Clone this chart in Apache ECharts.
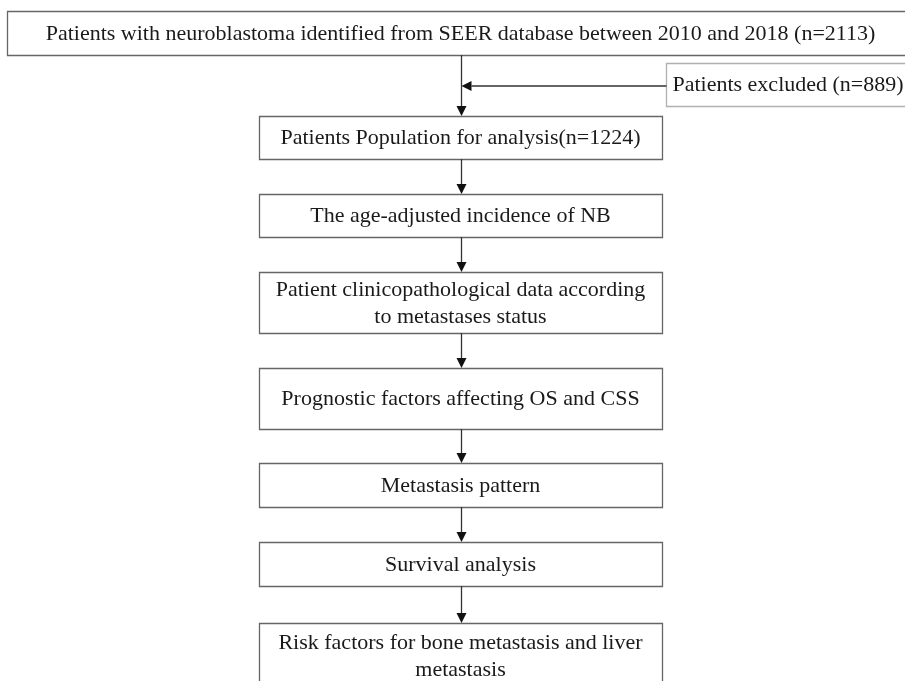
<!DOCTYPE html>
<html>
<head>
<meta charset="utf-8">
<script src="https://cdn.jsdelivr.net/npm/echarts@6/dist/echarts.min.js"></script>
<style>html,body{margin:0;padding:0;background:#fff}#c{width:905px;height:681px}</style>
</head>
<body>
<div id="c"></div>
<script>
// Flowchart content
const sourceLabel = 'Patients with neuroblastoma identified from SEER database between 2010 and 2018 (n=2113)';
const excludedLabel = 'Patients excluded (n=889)';
const stepLabels = [
  'Patients Population for analysis(n=1224)',
  'The age-adjusted incidence of NB',
  'Patient clinicopathological data according\nto metastases status',
  'Prognostic factors affecting OS and CSS',
  'Metastasis pattern',
  'Survival analysis',
  'Risk factors for bone metastasis and liver\nmetastasis'
];
// Box extents in diagram units (y grows downward)
const sourceBox = [7, 11, 914, 55];
const excludedBox = [666, 63, 910, 106];
const stepLeft = 259, stepRight = 662;
const stepTop = [116, 194, 272, 368, 463, 542, 623];
const stepBottom = [159, 237, 333, 429, 507, 586, 720];
const flowX = 461;
const excludedArrowY = 86;

const FONT = '"Liberation Serif", "Times New Roman", serif';
const TXT = '#1a1a1a';

const boxes = [];
boxes.push({x0: sourceBox[0], y0: sourceBox[1], x1: sourceBox[2], y1: sourceBox[3], text: sourceLabel, stroke: '#666'});
boxes.push({x0: excludedBox[0], y0: excludedBox[1], x1: excludedBox[2], y1: excludedBox[3], text: excludedLabel, stroke: '#b0b0b0'});
stepLabels.forEach((t, i) => {
  const y1 = stepBottom[i];
  boxes.push({x0: stepLeft, y0: stepTop[i], x1: stepRight, y1: y1, text: t, stroke: '#666',
    textY: i === stepLabels.length - 1 ? stepTop[i] + 33 : null});
});

const arrows = [];
arrows.push({x0: flowX, y0: sourceBox[3], x1: flowX, y1: stepTop[0]});
arrows.push({x0: excludedBox[0], y0: excludedArrowY, x1: flowX, y1: excludedArrowY});
for (let i = 0; i < stepLabels.length - 1; i++) {
  arrows.push({x0: flowX, y0: stepBottom[i], x1: flowX, y1: stepTop[i + 1]});
}

const chart = echarts.init(document.getElementById('c'), null, {renderer: 'canvas'});
chart.setOption({
  backgroundColor: '#fff',
  animation: false,
  grid: {left: 0, right: 0, top: 0, bottom: 0},
  xAxis: {type: 'value', min: 0, max: 905, show: false},
  yAxis: {type: 'value', min: 0, max: 681, inverse: true, show: false},
  series: [
    {
      type: 'custom',
      coordinateSystem: 'cartesian2d',
      data: boxes.map(b => [b.x0, b.y0, b.x1, b.y1]),
      clip: false,
      renderItem: function (params, api) {
        const b = boxes[params.dataIndex];
        const p0 = api.coord([b.x0, b.y0]);
        const p1 = api.coord([b.x1, b.y1]);
        const cx = (p0[0] + p1[0]) / 2;
        let cy = (p0[1] + p1[1]) / 2;
        if (b.textY != null) cy = api.coord([0, b.textY])[1];
        return {
          type: 'group',
          children: [
            {type: 'rect', shape: {x: p0[0] + 0.5, y: p0[1] + 0.5, width: p1[0] - p0[0], height: p1[1] - p0[1]},
              style: {fill: '#fff', stroke: b.stroke, lineWidth: 1.3}},
            {type: 'text', x: cx, y: cy + 1,
              style: {text: b.text, font: '22px ' + FONT, fill: TXT, align: 'center', verticalAlign: 'middle', lineHeight: 27}}
          ]
        };
      }
    },
    {
      type: 'custom',
      coordinateSystem: 'cartesian2d',
      data: arrows.map(a => [a.x0, a.y0, a.x1, a.y1]),
      clip: false,
      renderItem: function (params, api) {
        const a = arrows[params.dataIndex];
        const p0 = api.coord([a.x0, a.y0]);
        const p1 = api.coord([a.x1, a.y1]);
        const dx = p1[0] - p0[0], dy = p1[1] - p0[1];
        const len = Math.sqrt(dx * dx + dy * dy);
        const ux = dx / len, uy = dy / len;
        const hl = 10, hw = 5;
        const bx = p1[0] - ux * hl, by = p1[1] - uy * hl;
        return {
          type: 'group',
          children: [
            {type: 'line', shape: {x1: p0[0] + 0.5, y1: p0[1], x2: bx + 0.5, y2: by}, style: {stroke: '#333', lineWidth: 1.3}},
            {type: 'polygon', shape: {points: [[p1[0] + 0.5, p1[1]], [bx - uy * hw + 0.5, by + ux * hw], [bx + uy * hw + 0.5, by - ux * hw]]},
              style: {fill: '#111'}}
          ]
        };
      }
    }
  ]
});
</script>
</body>
</html>
